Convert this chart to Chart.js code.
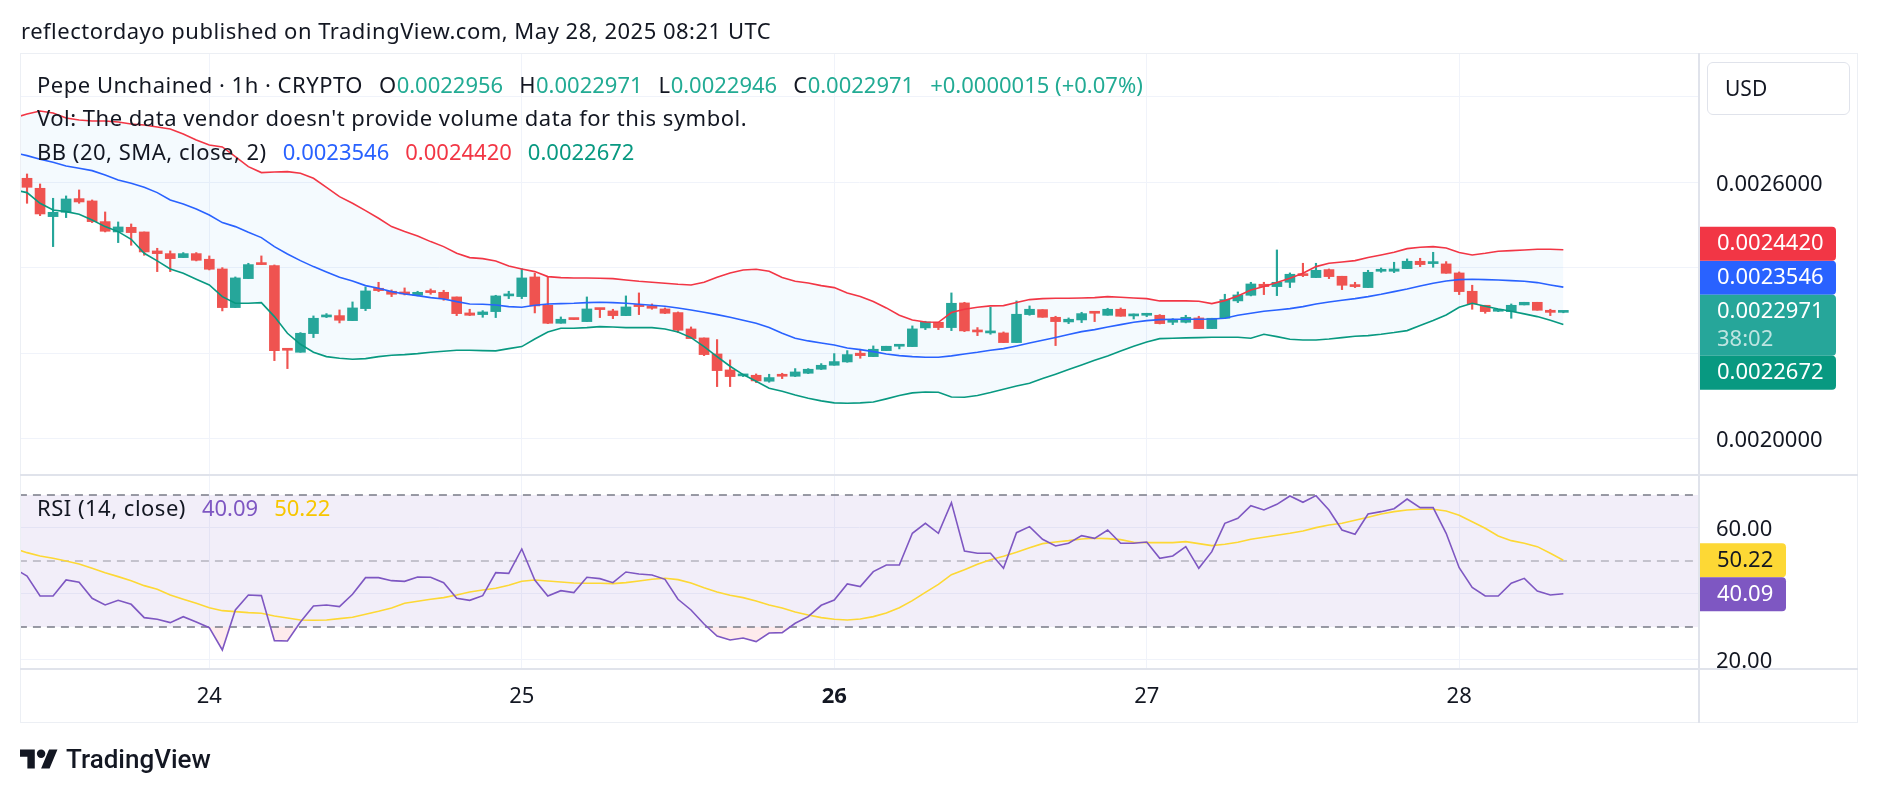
<!DOCTYPE html>
<html>
<head>
<meta charset="utf-8">
<title>Pepe Unchained · 1h · CRYPTO</title>
<script src="https://cdn.jsdelivr.net/npm/chart.js@4.4.1/dist/chart.umd.min.js"></script>
<style>
  body { margin: 0; background: #fff; }
  #page { position: relative; width: 1878px; height: 794px; overflow: hidden; font-family: "Noto Sans", Roboto, sans-serif; color: #131722; }
  .abs { position: absolute; white-space: nowrap; line-height: 1; }
  .lg { left: 37px; font-size: 22px; letter-spacing: 0.5px; }
  .sp { margin-left: 16px; }
  .num { letter-spacing: 0; }
  .up { color: #22ab94; }
  .line { position: absolute; background: #e0e3eb; }
  canvas { position: absolute; left: 0; top: 0; }
</style>
</head>
<body>
<div id="page">
  <canvas id="chart" width="1878" height="794"></canvas>

  <div class="abs" style="left:21px; top:19px; font-size:22px; letter-spacing:0.5px;">reflectordayo published on TradingView.com, May 28, 2025 08:21 UTC</div>

  <!-- chart frame -->
  <div style="position:absolute; left:20px; top:53px; width:1836px; height:668px; border:1px solid #eceff4;"></div>
  <div class="line" style="left:20px; top:474px; width:1838px; height:2px;"></div>
  <div class="line" style="left:20px; top:668px; width:1838px; height:2px;"></div>
  <div class="line" style="left:1698px; top:53px; width:2px; height:670px;"></div>

  <div class="abs lg" style="top:73px;">Pepe Unchained · 1h · CRYPTO<span class="sp">O</span><span class="up num" id="vO"></span><span class="sp">H</span><span class="up num" id="vH"></span><span class="sp">L</span><span class="up num" id="vL"></span><span class="sp">C</span><span class="up num" id="vC"></span><span class="sp up num" id="vChg"></span></div>
  <div class="abs lg" style="top:106px;">Vol: The data vendor doesn't provide volume data for this symbol.</div>
  <div class="abs lg" style="top:140px;">BB (20, SMA, close, 2)<span class="sp num" id="vMid" style="color:#2962ff"></span><span class="sp num" id="vUp" style="color:#f23645"></span><span class="sp num" id="vLow" style="color:#089981"></span></div>
  <div class="abs lg" style="top:496px;">RSI (14, close)<span class="sp num" id="vRsi" style="color:#7e57c2"></span><span class="sp num" id="vRsiMa" style="color:#f7c600"></span></div>

  <div class="abs" style="left:1707px; top:62px; width:143px; height:53px; box-sizing:border-box; border:1px solid #e0e3eb; border-radius:6px; font-size:21px; line-height:51px; padding-left:17px;">USD</div>

  <svg style="position:absolute; left:20px; top:745px;" width="38" height="30" viewBox="0 0 36 28"><path d="M14 22H7V11H0V4h14v18zM28 22h-8l7.5-18h8L28 22z" fill="#131722"/><circle cx="20" cy="8" r="4" fill="#131722"/></svg>
  <div class="abs" style="left:66px; top:746px; font-size:26px; font-weight:500; font-family:Roboto, sans-serif;">TradingView</div>
</div>

<script>
// hours counted from May 24 00:00 UTC, one candle per hour
const firstCandleHour = -14;
const firstLineHour = -15;
const dayTicks = [0, 24, 48, 72, 96];
const dayLabels = ['24', '25', '26', '27', '28'];
const priceTicks = [0.0020, 0.0022, 0.0024, 0.0026, 0.0028];
const priceLabelled = [0.0020, 0.0026];
const rsiTicks = [20, 40, 60];
const rsiLabelled = [20, 60];
const rsiLevels = [70, 50, 30];

const opens = [
  0.0026094, 0.0025860, 0.0025197, 0.0025298, 0.0025618, 0.0025564, 0.0025080, 0.0024838, 0.0024947, 0.0024838,
  0.0024394, 0.0024331, 0.0024238, 0.0024331, 0.0024199, 0.0023972, 0.0023068, 0.0023746, 0.0024097, 0.0024050,
  0.0022093, 0.0022022, 0.0022459, 0.0022849, 0.0022880, 0.0022763, 0.0023044, 0.0023520, 0.0023450, 0.0023419,
  0.0023356, 0.0023450, 0.0023426, 0.0023317, 0.0022943, 0.0022904, 0.0022974, 0.0023341, 0.0023325, 0.0023785,
  0.0023122, 0.0022701, 0.0022810, 0.0022740, 0.0023052, 0.0022990, 0.0022880, 0.0023122, 0.0023107, 0.0023036,
  0.0022951, 0.0022568, 0.0022358, 0.0021983, 0.0021609, 0.0021469, 0.0021484, 0.0021344, 0.0021484, 0.0021461,
  0.0021531, 0.0021625, 0.0021718, 0.0021796, 0.0022001, 0.0021921, 0.0022061, 0.0022163, 0.0022155, 0.0022592,
  0.0022724, 0.0022600, 0.0023177, 0.0022537, 0.0022475, 0.0022475, 0.0022249, 0.0022904, 0.0023021, 0.0022841,
  0.0022732, 0.0022779, 0.0022958, 0.0022888, 0.0023029, 0.0022873, 0.0022888, 0.0022888, 0.0022724, 0.0022724,
  0.0022826, 0.0022576, 0.0022818, 0.0023224, 0.0023356, 0.0023614, 0.0023559, 0.0023660, 0.0023856, 0.0023770,
  0.0023957, 0.0023801, 0.0023598, 0.0023536, 0.0023918, 0.0023918, 0.0023980, 0.0024152, 0.0024097, 0.0024090,
  0.0023879, 0.0023450, 0.0023122, 0.0022982, 0.0022974, 0.0023130, 0.0023192, 0.0023005, 0.0022956
];
const highs = [
  0.0026195, 0.0025961, 0.0025626, 0.0025681, 0.0025821, 0.0025587, 0.0025306, 0.0025072, 0.0025025, 0.0024838,
  0.0024456, 0.0024394, 0.0024355, 0.0024355, 0.0024277, 0.0024003, 0.0023785, 0.0024105, 0.0024277, 0.0024066,
  0.0022108, 0.0022483, 0.0022873, 0.0022927, 0.0023013, 0.0023200, 0.0023551, 0.0023660, 0.0023481, 0.0023528,
  0.0023450, 0.0023504, 0.0023473, 0.0023317, 0.0023029, 0.0022997, 0.0023356, 0.0023450, 0.0023980, 0.0023871,
  0.0023785, 0.0022849, 0.0022810, 0.0023317, 0.0023052, 0.0023029, 0.0023341, 0.0023411, 0.0023153, 0.0023060,
  0.0022966, 0.0022615, 0.0022358, 0.0022319, 0.0021843, 0.0021500, 0.0021515, 0.0021508, 0.0021531, 0.0021640,
  0.0021640, 0.0021757, 0.0021991, 0.0022061, 0.0022093, 0.0022171, 0.0022163, 0.0022194, 0.0022639, 0.0022748,
  0.0022724, 0.0023411, 0.0023192, 0.0022600, 0.0023076, 0.0022498, 0.0023224, 0.0023107, 0.0023021, 0.0022865,
  0.0022826, 0.0022958, 0.0022958, 0.0023052, 0.0023060, 0.0022919, 0.0022935, 0.0022904, 0.0022810, 0.0022888,
  0.0022865, 0.0022818, 0.0023380, 0.0023434, 0.0023660, 0.0023660, 0.0024417, 0.0023879, 0.0024105, 0.0024105,
  0.0023972, 0.0023801, 0.0023660, 0.0023941, 0.0023996, 0.0024129, 0.0024207, 0.0024222, 0.0024362, 0.0024144,
  0.0023902, 0.0023591, 0.0023122, 0.0023013, 0.0023153, 0.0023192, 0.0023192, 0.0023029, 0.0022971
];
const lows = [
  0.0025509, 0.0025220, 0.0024495, 0.0025174, 0.0025509, 0.0025057, 0.0024838, 0.0024589, 0.0024526, 0.0024292,
  0.0023910, 0.0023910, 0.0024238, 0.0024160, 0.0023949, 0.0022990, 0.0023068, 0.0023746, 0.0024074, 0.0021827,
  0.0021640, 0.0022022, 0.0022366, 0.0022834, 0.0022709, 0.0022763, 0.0022997, 0.0023442, 0.0023325, 0.0023364,
  0.0023341, 0.0023380, 0.0023239, 0.0022880, 0.0022880, 0.0022841, 0.0022834, 0.0023278, 0.0023278, 0.0022943,
  0.0022693, 0.0022701, 0.0022787, 0.0022740, 0.0022834, 0.0022810, 0.0022880, 0.0022904, 0.0023029, 0.0022927,
  0.0022483, 0.0022342, 0.0021944, 0.0021219, 0.0021219, 0.0021453, 0.0021313, 0.0021321, 0.0021406, 0.0021453,
  0.0021523, 0.0021617, 0.0021718, 0.0021788, 0.0021882, 0.0021921, 0.0022061, 0.0022101, 0.0022155, 0.0022553,
  0.0022553, 0.0022529, 0.0022506, 0.0022412, 0.0022444, 0.0022249, 0.0022249, 0.0022888, 0.0022841, 0.0022179,
  0.0022693, 0.0022717, 0.0022740, 0.0022888, 0.0022865, 0.0022802, 0.0022857, 0.0022685, 0.0022670, 0.0022709,
  0.0022576, 0.0022576, 0.0022818, 0.0023185, 0.0023341, 0.0023372, 0.0023348, 0.0023536, 0.0023793, 0.0023770,
  0.0023746, 0.0023489, 0.0023536, 0.0023536, 0.0023894, 0.0023887, 0.0023980, 0.0024027, 0.0024011, 0.0023871,
  0.0023372, 0.0023029, 0.0022935, 0.0022974, 0.0022818, 0.0023130, 0.0023005, 0.0022880, 0.0022946
];
const closes = [
  0.0025883, 0.0025259, 0.0025298, 0.0025610, 0.0025540, 0.0025080, 0.0024854, 0.0024955, 0.0024823, 0.0024370,
  0.0024331, 0.0024214, 0.0024331, 0.0024175, 0.0023965, 0.0023068, 0.0023762, 0.0024074, 0.0024074, 0.0022061,
  0.0022069, 0.0022467, 0.0022818, 0.0022888, 0.0022771, 0.0023060, 0.0023458, 0.0023465, 0.0023380, 0.0023387,
  0.0023426, 0.0023419, 0.0023278, 0.0022927, 0.0022888, 0.0022966, 0.0023341, 0.0023372, 0.0023762, 0.0023107,
  0.0022701, 0.0022795, 0.0022787, 0.0023036, 0.0023021, 0.0022880, 0.0023083, 0.0023091, 0.0023052, 0.0022935,
  0.0022537, 0.0022342, 0.0021968, 0.0021593, 0.0021453, 0.0021484, 0.0021352, 0.0021430, 0.0021461, 0.0021562,
  0.0021625, 0.0021718, 0.0021804, 0.0021968, 0.0021944, 0.0022093, 0.0022163, 0.0022194, 0.0022569, 0.0022732,
  0.0022600, 0.0023169, 0.0022522, 0.0022498, 0.0022522, 0.0022249, 0.0022912, 0.0023029, 0.0022841, 0.0022740,
  0.0022795, 0.0022927, 0.0022935, 0.0023029, 0.0022865, 0.0022896, 0.0022904, 0.0022693, 0.0022763, 0.0022841,
  0.0022576, 0.0022818, 0.0023255, 0.0023364, 0.0023621, 0.0023559, 0.0023660, 0.0023848, 0.0023816, 0.0023941,
  0.0023793, 0.0023590, 0.0023559, 0.0023894, 0.0023957, 0.0023972, 0.0024152, 0.0024074, 0.0024121, 0.0023871,
  0.0023442, 0.0023153, 0.0022974, 0.0023005, 0.0023122, 0.0023192, 0.0023005, 0.0022956, 0.0022971
];

const bbUpper = [
  0.0027506, 0.0027599, 0.0027670, 0.0027623, 0.0027506, 0.0027459, 0.0027436, 0.0027436, 0.0027412, 0.0027365,
  0.0027342, 0.0027295, 0.0027248, 0.0027131, 0.0026991, 0.0026874, 0.0026827, 0.0026601, 0.0026367, 0.0026227,
  0.0026242, 0.0026250, 0.0026211, 0.0026094, 0.0025883, 0.0025665, 0.0025509, 0.0025337, 0.0025158, 0.0024963,
  0.0024846, 0.0024745, 0.0024612, 0.0024495, 0.0024339, 0.0024238, 0.0024214, 0.0024160, 0.0024043, 0.0023972,
  0.0023910, 0.0023793, 0.0023770, 0.0023762, 0.0023762, 0.0023754, 0.0023746, 0.0023715, 0.0023684, 0.0023660,
  0.0023637, 0.0023614, 0.0023598, 0.0023660, 0.0023777, 0.0023879, 0.0023949, 0.0023965, 0.0023918, 0.0023770,
  0.0023684, 0.0023645, 0.0023582, 0.0023536, 0.0023411, 0.0023325, 0.0023208, 0.0023060, 0.0022888, 0.0022779,
  0.0022732, 0.0022724, 0.0022951, 0.0023029, 0.0023075, 0.0023107, 0.0023114, 0.0023185, 0.0023255, 0.0023278,
  0.0023286, 0.0023286, 0.0023294, 0.0023302, 0.0023325, 0.0023309, 0.0023294, 0.0023278, 0.0023224, 0.0023224,
  0.0023224, 0.0023216, 0.0023161, 0.0023231, 0.0023341, 0.0023481, 0.0023559, 0.0023653, 0.0023754, 0.0023871,
  0.0024027, 0.0024105, 0.0024136, 0.0024167, 0.0024238, 0.0024300, 0.0024362, 0.0024448, 0.0024479, 0.0024495,
  0.0024464, 0.0024355, 0.0024300, 0.0024339, 0.0024386, 0.0024401, 0.0024417, 0.0024433, 0.0024433, 0.0024420
];
const bbBasis = [
  0.0026695, 0.0026624, 0.0026539, 0.0026468, 0.0026383, 0.0026328, 0.0026273, 0.0026172, 0.0026055, 0.0025977,
  0.0025883, 0.0025759, 0.0025587, 0.0025493, 0.0025376, 0.0025236, 0.0025057, 0.0024963, 0.0024830, 0.0024706,
  0.0024495, 0.0024323, 0.0024167, 0.0024027, 0.0023902, 0.0023777, 0.0023692, 0.0023582, 0.0023520, 0.0023442,
  0.0023387, 0.0023348, 0.0023302, 0.0023270, 0.0023208, 0.0023153, 0.0023146, 0.0023130, 0.0023091, 0.0023075,
  0.0023122, 0.0023153, 0.0023161, 0.0023169, 0.0023185, 0.0023192, 0.0023185, 0.0023169, 0.0023146, 0.0023122,
  0.0023099, 0.0023060, 0.0023013, 0.0022958, 0.0022904, 0.0022841, 0.0022771, 0.0022701, 0.0022600, 0.0022467,
  0.0022350, 0.0022288, 0.0022241, 0.0022194, 0.0022124, 0.0022085, 0.0022038, 0.0021983, 0.0021944, 0.0021921,
  0.0021905, 0.0021905, 0.0021937, 0.0021983, 0.0022022, 0.0022069, 0.0022108, 0.0022171, 0.0022241, 0.0022303,
  0.0022366, 0.0022436, 0.0022506, 0.0022553, 0.0022615, 0.0022670, 0.0022724, 0.0022763, 0.0022787, 0.0022795,
  0.0022795, 0.0022795, 0.0022802, 0.0022818, 0.0022888, 0.0022935, 0.0022982, 0.0023013, 0.0023044, 0.0023091,
  0.0023153, 0.0023200, 0.0023239, 0.0023278, 0.0023325, 0.0023380, 0.0023442, 0.0023504, 0.0023575, 0.0023637,
  0.0023692, 0.0023723, 0.0023731, 0.0023723, 0.0023715, 0.0023699, 0.0023684, 0.0023653, 0.0023598, 0.0023546
];
const bbLower = [
  0.0025821, 0.0025759, 0.0025509, 0.0025353, 0.0025314, 0.0025252, 0.0025119, 0.0024963, 0.0024846, 0.0024667,
  0.0024339, 0.0024160, 0.0023972, 0.0023871, 0.0023731, 0.0023598, 0.0023325, 0.0023169, 0.0023169, 0.0023185,
  0.0022857, 0.0022467, 0.0022210, 0.0022022, 0.0021921, 0.0021882, 0.0021859, 0.0021874, 0.0021921, 0.0021952,
  0.0021968, 0.0021991, 0.0022022, 0.0022046, 0.0022069, 0.0022069, 0.0022061, 0.0022054, 0.0022108, 0.0022155,
  0.0022334, 0.0022498, 0.0022584, 0.0022584, 0.0022600, 0.0022623, 0.0022615, 0.0022600, 0.0022600, 0.0022600,
  0.0022568, 0.0022498, 0.0022366, 0.0022155, 0.0021921, 0.0021695, 0.0021500, 0.0021344, 0.0021180, 0.0021110,
  0.0021024, 0.0020946, 0.0020884, 0.0020837, 0.0020829, 0.0020837, 0.0020860, 0.0020931, 0.0021009, 0.0021071,
  0.0021094, 0.0021087, 0.0020977, 0.0020969, 0.0021009, 0.0021079, 0.0021157, 0.0021235, 0.0021297, 0.0021406,
  0.0021508, 0.0021617, 0.0021726, 0.0021835, 0.0021937, 0.0022054, 0.0022163, 0.0022264, 0.0022342, 0.0022350,
  0.0022358, 0.0022366, 0.0022373, 0.0022373, 0.0022373, 0.0022350, 0.0022444, 0.0022389, 0.0022327, 0.0022311,
  0.0022311, 0.0022334, 0.0022366, 0.0022397, 0.0022412, 0.0022444, 0.0022483, 0.0022529, 0.0022646, 0.0022764,
  0.0022896, 0.0023076, 0.0023169, 0.0023099, 0.0023036, 0.0022982, 0.0022920, 0.0022857, 0.0022771, 0.0022672
];

const rsi = [
  47.78, 45.46, 39.39, 39.39, 44.25, 43.54, 38.69, 36.67, 38.08, 36.87,
  32.83, 32.33, 31.32, 33.13, 31.52, 29.80, 23.04, 35.16, 39.70, 39.50,
  25.86, 25.76, 31.52, 36.37, 36.67, 36.17, 39.90, 44.95, 44.95, 44.04,
  43.84, 45.16, 45.06, 43.44, 38.69, 38.08, 39.50, 46.46, 46.27, 53.64,
  44.25, 39.39, 41.01, 40.41, 45.06, 44.65, 43.44, 46.67, 46.06, 45.76,
  44.45, 38.39, 35.16, 30.91, 27.27, 26.06, 26.67, 25.56, 28.18, 28.29,
  31.12, 33.13, 36.57, 38.19, 43.04, 42.23, 46.77, 48.79, 48.79, 58.39,
  61.42, 58.39, 67.68, 53.03, 52.33, 52.33, 47.78, 58.59, 60.41, 56.57,
  54.55, 55.36, 57.68, 56.87, 59.40, 55.36, 55.36, 55.76, 50.81, 51.52,
  54.35, 47.78, 52.83, 61.42, 62.93, 66.77, 65.46, 67.17, 69.70, 67.78,
  69.80, 65.46, 59.40, 58.09, 64.25, 64.95, 65.86, 68.79, 66.16, 66.16,
  58.39, 47.98, 42.02, 39.39, 39.39, 43.24, 44.75, 40.91, 39.70, 40.09
];
const rsiMa = [
  53.84, 52.53, 51.52, 50.81, 50.00, 49.09, 47.78, 46.46, 45.26, 44.04,
  42.53, 41.42, 39.70, 38.39, 37.17, 35.86, 34.95, 34.65, 34.35, 34.15,
  33.34, 32.73, 32.13, 32.03, 32.13, 32.53, 32.93, 33.84, 34.75, 35.76,
  37.17, 37.78, 38.39, 38.89, 39.70, 40.61, 41.22, 41.72, 42.64, 43.84,
  44.25, 43.94, 43.64, 43.34, 43.24, 43.24, 43.13, 43.44, 43.94, 44.45,
  44.75, 44.35, 43.34, 41.92, 40.61, 39.60, 38.89, 37.88, 36.67, 35.76,
  34.55, 33.64, 32.83, 32.33, 32.13, 32.43, 33.14, 34.25, 35.86, 37.98,
  40.51, 42.93, 45.86, 47.37, 48.99, 50.40, 51.42, 52.63, 54.04, 55.26,
  55.76, 56.17, 56.67, 56.87, 56.77, 56.47, 55.66, 55.56, 55.56, 55.56,
  55.86, 55.26, 54.65, 55.06, 55.66, 56.57, 57.18, 57.78, 58.39, 59.10,
  60.11, 60.91, 61.42, 62.33, 63.24, 64.25, 64.95, 65.46, 65.66, 65.66,
  65.16, 63.84, 61.92, 59.90, 57.58, 56.17, 55.36, 54.35, 52.33, 50.22
];

const upColor = '#26a69a';
const downColor = '#ef5350';
const last = closes.length - 1;
const fmt = (v) => v.toFixed(7);
const fontFamily = '"Noto Sans", Roboto, sans-serif';

// legend values
document.getElementById('vO').textContent = fmt(opens[last]);
document.getElementById('vH').textContent = fmt(highs[last]);
document.getElementById('vL').textContent = fmt(lows[last]);
document.getElementById('vC').textContent = fmt(closes[last]);
const chg = closes[last] - closes[last - 1];
const sign = chg >= 0 ? '+' : '';
document.getElementById('vChg').textContent = sign + fmt(chg) + ' (' + sign + (chg / closes[last - 1] * 100).toFixed(2) + '%)';
document.getElementById('vMid').textContent = fmt(bbBasis[bbBasis.length - 1]);
document.getElementById('vUp').textContent = fmt(bbUpper[bbUpper.length - 1]);
document.getElementById('vLow').textContent = fmt(bbLower[bbLower.length - 1]);
document.getElementById('vRsi').textContent = rsi[rsi.length - 1].toFixed(2);
document.getElementById('vRsiMa').textContent = rsiMa[rsiMa.length - 1].toFixed(2);

const candleColor = (c) => closes[c.dataIndex] >= opens[c.dataIndex] ? upColor : downColor;
const bodies = opens.map((o, i) => ({x: i + firstCandleHour, y: [o, closes[i]]}));
const wicks = lows.map((l, i) => ({x: i + firstCandleHour, y: [l, highs[i]]}));
const asLine = (arr) => arr.map((v, i) => ({x: i + firstLineHour, y: v}));
const level = (v) => [{x: -20, y: v}, {x: 120, y: v}];

const near = (list, v) => list.some(p => Math.abs(p - v) < 1e-9);

// price / rsi tags on the right axis
const tagPlugin = {
  id: 'lastValueTags',
  afterDraw(chart) {
    const ctx = chart.ctx;
    const py = chart.scales.y, ry = chart.scales.rsi;
    const x0 = py.left + 1;
    const tx = py.left + 18;
    const h = 34;
    ctx.save();
    ctx.font = '22px ' + fontFamily;
    ctx.textBaseline = 'middle';
    const box = (top, w, hh, bg) => {
      ctx.fillStyle = bg;
      ctx.beginPath();
      ctx.roundRect(x0, top, w, hh, [0, 4, 4, 0]);
      ctx.fill();
    };
    const text = (s, y, col) => { ctx.fillStyle = col; ctx.fillText(s, tx, y); };

    const closeTop = py.getPixelForValue(closes[last]) - h / 2;
    const closeH = 61;
    let prevTop = closeTop;
    [[bbBasis[bbBasis.length - 1], '#2962ff'], [bbUpper[bbUpper.length - 1], '#f23645']].forEach(([v, col]) => {
      const top = Math.min(py.getPixelForValue(v) - h / 2, prevTop - h);
      box(top, 136, h, col);
      text(fmt(v), top + h / 2 + 0.5, '#ffffff');
      prevTop = top;
    });
    box(closeTop, 136, closeH, upColor);
    text(fmt(closes[last]), closeTop + h / 2 + 0.5, '#ffffff');
    text('38:02', closeTop + h / 2 + 28.5, 'rgba(255,255,255,0.7)');
    const lowV = bbLower[bbLower.length - 1];
    const lowTop = Math.max(py.getPixelForValue(lowV) - h / 2, closeTop + closeH);
    box(lowTop, 136, h, '#089981');
    text(fmt(lowV), lowTop + h / 2 + 0.5, '#ffffff');

    const maV = rsiMa[rsiMa.length - 1], rV = rsi[rsi.length - 1];
    const maTop = ry.getPixelForValue(maV) - h / 2;
    box(maTop, 86, h, '#fdd835');
    text(maV.toFixed(2), maTop + h / 2 + 0.5, '#131722');
    const rTop = Math.max(ry.getPixelForValue(rV) - h / 2, maTop + h);
    box(rTop, 86, h, '#7e57c2');
    text(rV.toFixed(2), rTop + h / 2 + 0.5, '#ffffff');
    ctx.restore();
  }
};

const tickFont = {family: fontFamily, size: 22};

new Chart(document.getElementById('chart'), {
  type: 'bar',
  data: {
    datasets: [
      {type: 'bar', label: 'wicks', data: wicks, xAxisID: 'x', yAxisID: 'y', grouped: false,
       barThickness: 1.5, minBarLength: 1, backgroundColor: candleColor, borderWidth: 0, order: 6},
      {type: 'bar', label: 'bodies', data: bodies, xAxisID: 'x', yAxisID: 'y', grouped: false,
       barThickness: 10, minBarLength: 2, backgroundColor: candleColor, borderWidth: 0, order: 5},
      {type: 'line', label: 'BB upper', data: asLine(bbUpper), yAxisID: 'y', borderColor: '#f23645',
       borderWidth: 1.6, pointRadius: 0, tension: 0,
       fill: {target: 4, above: 'rgba(33,150,243,0.05)', below: 'rgba(33,150,243,0.05)'}, order: 2},
      {type: 'line', label: 'BB basis', data: asLine(bbBasis), yAxisID: 'y', borderColor: '#2962ff',
       borderWidth: 1.6, pointRadius: 0, tension: 0, fill: false, order: 2},
      {type: 'line', label: 'BB lower', data: asLine(bbLower), yAxisID: 'y', borderColor: '#089981',
       borderWidth: 1.6, pointRadius: 0, tension: 0, fill: false, order: 2},
      {type: 'line', label: 'RSI upper band', data: level(rsiLevels[0]), yAxisID: 'rsi', borderColor: '#787b86',
       borderWidth: 1.3, borderDash: [8, 6], pointRadius: 0,
       fill: {target: 7, above: 'rgba(126,87,194,0.1)', below: 'rgba(126,87,194,0.1)'}, order: 4},
      {type: 'line', label: 'RSI middle band', data: level(rsiLevels[1]), yAxisID: 'rsi', borderColor: 'rgba(120,123,134,0.5)',
       borderWidth: 1.3, borderDash: [8, 6], pointRadius: 0, fill: false, order: 4},
      {type: 'line', label: 'RSI lower band', data: level(rsiLevels[2]), yAxisID: 'rsi', borderColor: '#787b86',
       borderWidth: 1.3, borderDash: [8, 6], pointRadius: 0, fill: false, order: 4},
      {type: 'line', label: 'RSI', data: asLine(rsi), yAxisID: 'rsi', borderColor: '#7e57c2',
       borderWidth: 1.6, pointRadius: 0, tension: 0,
       fill: {target: {value: rsiLevels[2]}, above: 'rgba(0,0,0,0)', below: 'rgba(242,54,69,0.1)'}, order: 1},
      {type: 'line', label: 'RSI-based MA', data: asLine(rsiMa), yAxisID: 'rsi', borderColor: '#fdd835',
       borderWidth: 1.6, pointRadius: 0, tension: 0, fill: false, order: 1}
    ]
  },
  options: {
    responsive: false,
    animation: false,
    devicePixelRatio: 1,
    layout: {padding: {left: 20, top: 53, right: 20, bottom: 71}},
    plugins: {
      legend: {display: false},
      tooltip: {enabled: false},
      filler: {drawTime: 'beforeDatasetsDraw'}
    },
    scales: {
      x: {
        type: 'linear', position: 'bottom', min: -14.54, max: 114.42, offset: false, bounds: 'data',
        grid: {color: '#f0f3fa', drawTicks: false, offset: false},
        border: {display: false},
        afterBuildTicks: (s) => { s.ticks = dayTicks.map(v => ({value: v})); },
        afterFit: (s) => { s.height = 54; },
        ticks: {
          padding: 15, color: '#131722', autoSkip: false, maxRotation: 0,
          font: (c) => ({...tickFont, weight: c.tick && c.tick.value === 48 ? 'bold' : 'normal'}),
          callback: (v) => dayLabels[dayTicks.indexOf(v)]
        }
      },
      y: {
        type: 'linear', position: 'right', stack: 'panes', stackWeight: 422,
        min: 0.0019150, max: 0.0029026, bounds: 'data', beginAtZero: false,
        grid: {color: '#f0f3fa', drawTicks: false},
        border: {display: false},
        afterBuildTicks: (s) => { s.ticks = priceTicks.map(v => ({value: v})); },
        afterFit: (s) => { s.width = 159; },
        ticks: {padding: 17, labelOffset: 2, color: '#131722', font: tickFont, autoSkip: false,
                callback: (v) => near(priceLabelled, v) ? v.toFixed(7) : ''}
      },
      rsi: {
        type: 'linear', position: 'right', stack: 'panes', stackWeight: 194,
        min: 17.27, max: 76.06, bounds: 'data',
        grid: {color: '#f0f3fa', drawTicks: false},
        border: {display: false},
        afterBuildTicks: (s) => { s.ticks = rsiTicks.map(v => ({value: v})); },
        afterFit: (s) => { s.width = 159; },
        ticks: {padding: 17, labelOffset: 2, color: '#131722', font: tickFont, autoSkip: false,
                callback: (v) => near(rsiLabelled, v) ? v.toFixed(2) : ''}
      }
    }
  },
  plugins: [tagPlugin]
});
</script>
</body>
</html>
